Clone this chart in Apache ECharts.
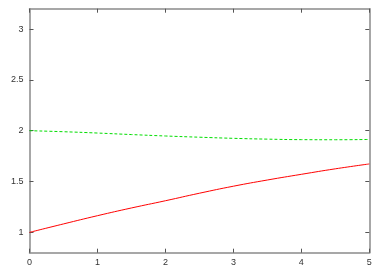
<!DOCTYPE html>
<html><head><meta charset="utf-8">
<script src="https://cdn.jsdelivr.net/npm/echarts@6/dist/echarts.min.js"></script>
<style>html,body{margin:0;padding:0;background:#fff}#c{width:383px;height:268px}</style>
</head><body><div id="c"></div>
<script>
var xValues = [0, 0.5, 1, 1.5, 2, 2.5, 3, 3.5, 4, 4.5, 5];
var redValues = [1.0, 1.083, 1.164, 1.24, 1.311, 1.385, 1.454, 1.515, 1.571, 1.625, 1.673];
var greenValues = [2.0, 1.99, 1.977, 1.962, 1.948, 1.936, 1.925, 1.917, 1.912, 1.911, 1.914];
var xTicks = [0, 1, 2, 3, 4, 5];
var yTicks = [1, 1.5, 2, 2.5, 3];

var chart = echarts.init(document.getElementById('c'));
var frame = {show: true, onZero: false, lineStyle: {color: '#8a8a8a', width: 1.5}};
var tick = {show: true, inside: true, length: 4, lineStyle: {color: '#555', width: 1}};
var lbl = {fontFamily: 'Liberation Sans, Arial, sans-serif', fontSize: 9, color: '#333'};
function pairs(ys){ return xValues.map(function(x,i){ return [x, ys[i]]; }); }
chart.setOption({
  animation: false,
  backgroundColor: '#fff',
  grid: {left: 29.5, right: 13.7, top: 8.7, bottom: 15.3, containLabel: false},
  xAxis: [
    {type: 'value', min: 0, max: 5, interval: 1, position: 'bottom', axisLine: frame,
     axisTick: tick, splitLine: {show: false},
     axisLabel: Object.assign({margin: 5}, lbl)},
    {type: 'value', min: 0, max: 5, interval: 1, position: 'top', axisLine: frame,
     axisTick: tick, splitLine: {show: false}, axisLabel: {show: false}}
  ],
  yAxis: [
    {type: 'value', min: 0.8, max: 3.2, position: 'left', axisLine: frame,
     axisTick: Object.assign({customValues: yTicks}, tick), splitLine: {show: false},
     axisLabel: Object.assign({customValues: yTicks, margin: 6, formatter: function(v){return String(v);}}, lbl)},
    {type: 'value', min: 0.8, max: 3.2, position: 'right', axisLine: frame,
     axisTick: Object.assign({customValues: yTicks}, tick), splitLine: {show: false},
     axisLabel: {show: false}}
  ],
  series: [
    {type: 'line', data: pairs(redValues), smooth: true, showSymbol: false,
     lineStyle: {color: '#ff0000', width: 1}},
    {type: 'line', data: pairs(greenValues), smooth: true, showSymbol: false,
     lineStyle: {color: '#00dd00', width: 1, type: [3, 2]}}
  ]
});
</script></body></html>
